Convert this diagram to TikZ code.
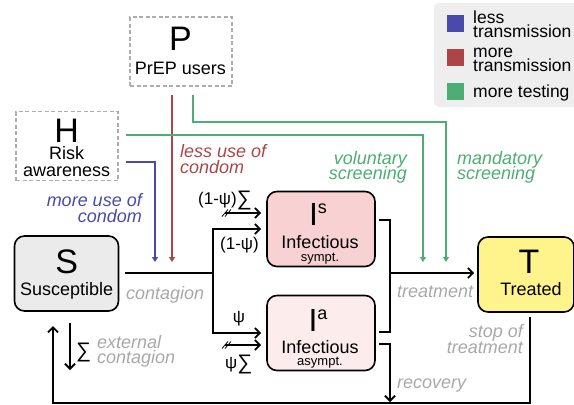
\documentclass[tikz,border=0pt]{standalone}
\usepackage{fontspec}
\setmainfont{Liberation Sans}
\usetikzlibrary{arrows.meta}
\definecolor{cblue}{RGB}{74,74,172}
\definecolor{cred}{RGB}{172,70,70}
\definecolor{cgreen}{RGB}{76,174,114}
\definecolor{cgray}{RGB}{168,168,168}
\definecolor{sfill}{RGB}{235,235,235}
\definecolor{isfill}{RGB}{248,210,210}
\definecolor{iafill}{RGB}{253,236,236}
\definecolor{tfill}{RGB}{255,243,140}
\definecolor{lgfill}{RGB}{238,238,238}
\newcommand\fbig{\fontsize{34}{34}\selectfont}
\newcommand\fI{\fontsize{32}{32}\selectfont}
\newcommand\flab{\fontsize{18}{18}\selectfont}
\newcommand\fleg{\fontsize{17.5}{17.5}\selectfont}
\newcommand\fsml{\fontsize{13}{13}\selectfont}
\newcommand\fpar{\fontsize{17}{17}\selectfont}
\newcommand\msum{{\fontsize{21}{21}\selectfont\raisebox{-1.5pt}{∑}}}
\begin{document}
\begin{tikzpicture}[x=1pt,y=-1pt,
  box/.style={draw=black, line width=1.6pt, rounded corners=10pt, inner sep=0pt},
  dbox/.style={draw=black!32, dash pattern=on 4pt off 2.5pt, line width=1.2pt, inner sep=0pt},
  flow/.style={line width=1.8pt, -{Straight Barb[length=5pt,width=10pt]}},
  plain/.style={line width=1.8pt},
  infl/.style={line width=1.6pt, -{Triangle[length=5pt,width=6pt]}},
  txt/.style={inner sep=0pt, anchor=base, font=\flab},
  glab/.style={inner sep=0pt, font=\flab\itshape, text=cgray},
  sq/.style={minimum size=17pt, inner sep=0pt}
]
\useasboundingbox (0,0) rectangle (574,405);

% legend
\fill[lgfill, rounded corners=5pt] (434,3) rectangle (590,107);
\node[sq, fill=cblue] (lgb) at (455.5,23.5) {};
\node[sq, fill=cred] (lgr) at (455.5,57.5) {};
\node[sq, fill=cgreen] (lgg) at (455.5,91) {};
\node[txt, anchor=base west, font=\fleg] (lgb1) at (473,23.5) {less};
\node[txt, anchor=base west, font=\fleg] (lgb2) at (473,37) {transmission};
\node[txt, anchor=base west, font=\fleg] (lgr1) at (473,57.5) {more};
\node[txt, anchor=base west, font=\fleg] (lgr2) at (473,71) {transmission};
\node[txt, anchor=base west, font=\fleg] (lgg1) at (473,97) {more testing};

% dashed boxes
\node[dbox, minimum width=102pt, minimum height=69pt] (P) at (181,51.5) {};
\node[txt, font=\fbig] (Pl) at (180.5,50) {P};
\node[txt] (Pt) at (180.5,74) {PrEP users};
\node[dbox, minimum width=102pt, minimum height=69pt] (H) at (67,146) {};
\node[txt, font=\fbig] (Hl) at (66.7,142) {H};
\node[txt] (Ht1) at (66.7,159) {Risk};
\node[txt] (Ht2) at (66.7,176) {awareness};

% compartments
\node[box, fill=sfill, minimum width=104pt, minimum height=75pt] (S) at (66.5,273.5) {};
\node[txt, font=\fbig] (Sl) at (66.7,273) {S};
\node[txt] (St) at (66.7,295.5) {Susceptible};

\node[box, fill=isfill, minimum width=108pt, minimum height=75pt] (Is) at (321,229) {};
\node[txt, font=\fI] (Isl) at (318,225) {I\raisebox{12pt}{\flab s}};
\node[txt] (Ist) at (320,248) {Infectious};
\node[txt, font=\fsml] (Iss) at (320,261.5) {sympt.};

\node[box, fill=iafill, minimum width=108pt, minimum height=75pt] (Ia) at (321,333) {};
\node[txt, font=\fI] (Ial) at (318,331) {I\raisebox{12pt}{\flab a}};
\node[txt] (Iat) at (320,353) {Infectious};
\node[txt, font=\fsml] (Ias) at (320,365) {asympt.};

\node[box, fill=tfill, minimum width=96pt, minimum height=75pt] (T) at (526,274.5) {};
\node[txt, font=\fbig] (Tl) at (529,273) {T};
\node[txt] (Tt) at (531,295) {Treated};

% coordinates
\coordinate (cs) at (125,273);
\coordinate (jc) at (213,273);
\coordinate (sigS) at (225,213);
\coordinate (sigA) at (225,345);
\coordinate (trtop) at (379,220);
\coordinate (trbot) at (379,332);
\coordinate (jt) at (390,273);
\coordinate (rectop) at (379,344);
\coordinate (recbot) at (390,402);
\coordinate (loopT) at (530,317);
\coordinate (loopB) at (53,403);
\coordinate (loopS) at (53,326);
\coordinate (ext1) at (70,323);
\coordinate (ext2) at (70,370);
\coordinate (bl0) at (126,162);
\coordinate (bl1) at (155,262);
\coordinate (rd0) at (172,95);
\coordinate (rd1) at (172,262);
\coordinate (g10) at (193,95);
\coordinate (g11) at (446,122);
\coordinate (g12) at (446,262);
\coordinate (g20) at (126,135);
\coordinate (g21) at (423,262);

% influences
\draw[infl, cblue] (bl0) -| (bl1);
\draw[infl, cred] (rd0) -- (rd1);
\draw[infl, cgreen] (g10) |- (g11) -- (g12);
\draw[infl, cgreen] (g20) -| (g21);

% flows
\draw[plain] (cs) -- (jc);
\draw[flow, shorten >=5pt] (jc) |- (Is.west);
\draw[flow, shorten >=5pt] (jc) |- (Ia.west);
\draw[flow, shorten >=5pt] (sigS) -- (sigS -| Is.west);
\draw[flow, shorten >=5pt] (sigA) -- (sigA -| Ia.west);
\foreach \c in {sigS,sigA}{
  \draw[line width=0.8pt] ([shift={(-3,3.5)}]\c) -- ([shift={(3,-3.5)}]\c);
  \draw[line width=0.8pt] ([shift={(0,3.5)}]\c) -- ([shift={(6,-3.5)}]\c);
}
\draw[plain] (trtop) -| (jt) |- (trbot);
\draw[flow, shorten >=3pt] (jt) -- (T.west |- jt);
\draw[flow] (rectop) -| (recbot);
\draw[flow] (loopT) |- (loopB) -- (loopS);
\draw[flow] (ext1) -- (ext2);

% labels
\node[txt, anchor=base west, font=\flab\itshape, text=cred] (lu1) at (180,157) {less use of};
\node[txt, anchor=base west, font=\flab\itshape, text=cred] (lu2) at (180,173) {condom};
\node[txt, anchor=base east, font=\flab\itshape, text=cblue] (mu1) at (142,206) {more use of};
\node[txt, anchor=base east, font=\flab\itshape, text=cblue] (mu2) at (142,222) {condom};
\node[txt, anchor=base east, font=\flab\itshape, text=cgreen] (vs1) at (407,164) {voluntary};
\node[txt, anchor=base east, font=\flab\itshape, text=cgreen] (vs2) at (407,179) {screening};
\node[txt, anchor=base west, font=\flab\itshape, text=cgreen] (ms1) at (457,164) {mandatory};
\node[txt, anchor=base west, font=\flab\itshape, text=cgreen] (ms2) at (457,179) {screening};
\node[glab, anchor=base west] (lc) at (126,299) {contagion};
\node[glab, anchor=base west] (lt) at (397,297) {treatment};
\node[glab, anchor=base east] (ls1) at (523,337) {stop of};
\node[glab, anchor=base east] (ls2) at (523,353) {treatment};
\node[glab, anchor=base west] (lr) at (397,388) {recovery};
\node[glab, anchor=base west] (le1) at (97,348) {external};
\node[glab, anchor=base west] (le2) at (97,363) {contagion};
\node[txt, anchor=base west, font=\fpar] (lsig) at (76,356) {\msum};
\node[txt, anchor=base west, font=\fpar] (f1) at (198,204) {(1-ψ)\msum};
\node[txt, anchor=base west, font=\fpar] (f2) at (220,249) {(1-ψ)};
\node[txt, font=\fpar] (f3) at (239,322) {ψ};
\node[txt, anchor=base west, font=\fpar] (f4) at (225,368) {ψ\msum};
\end{tikzpicture}
\end{document}
